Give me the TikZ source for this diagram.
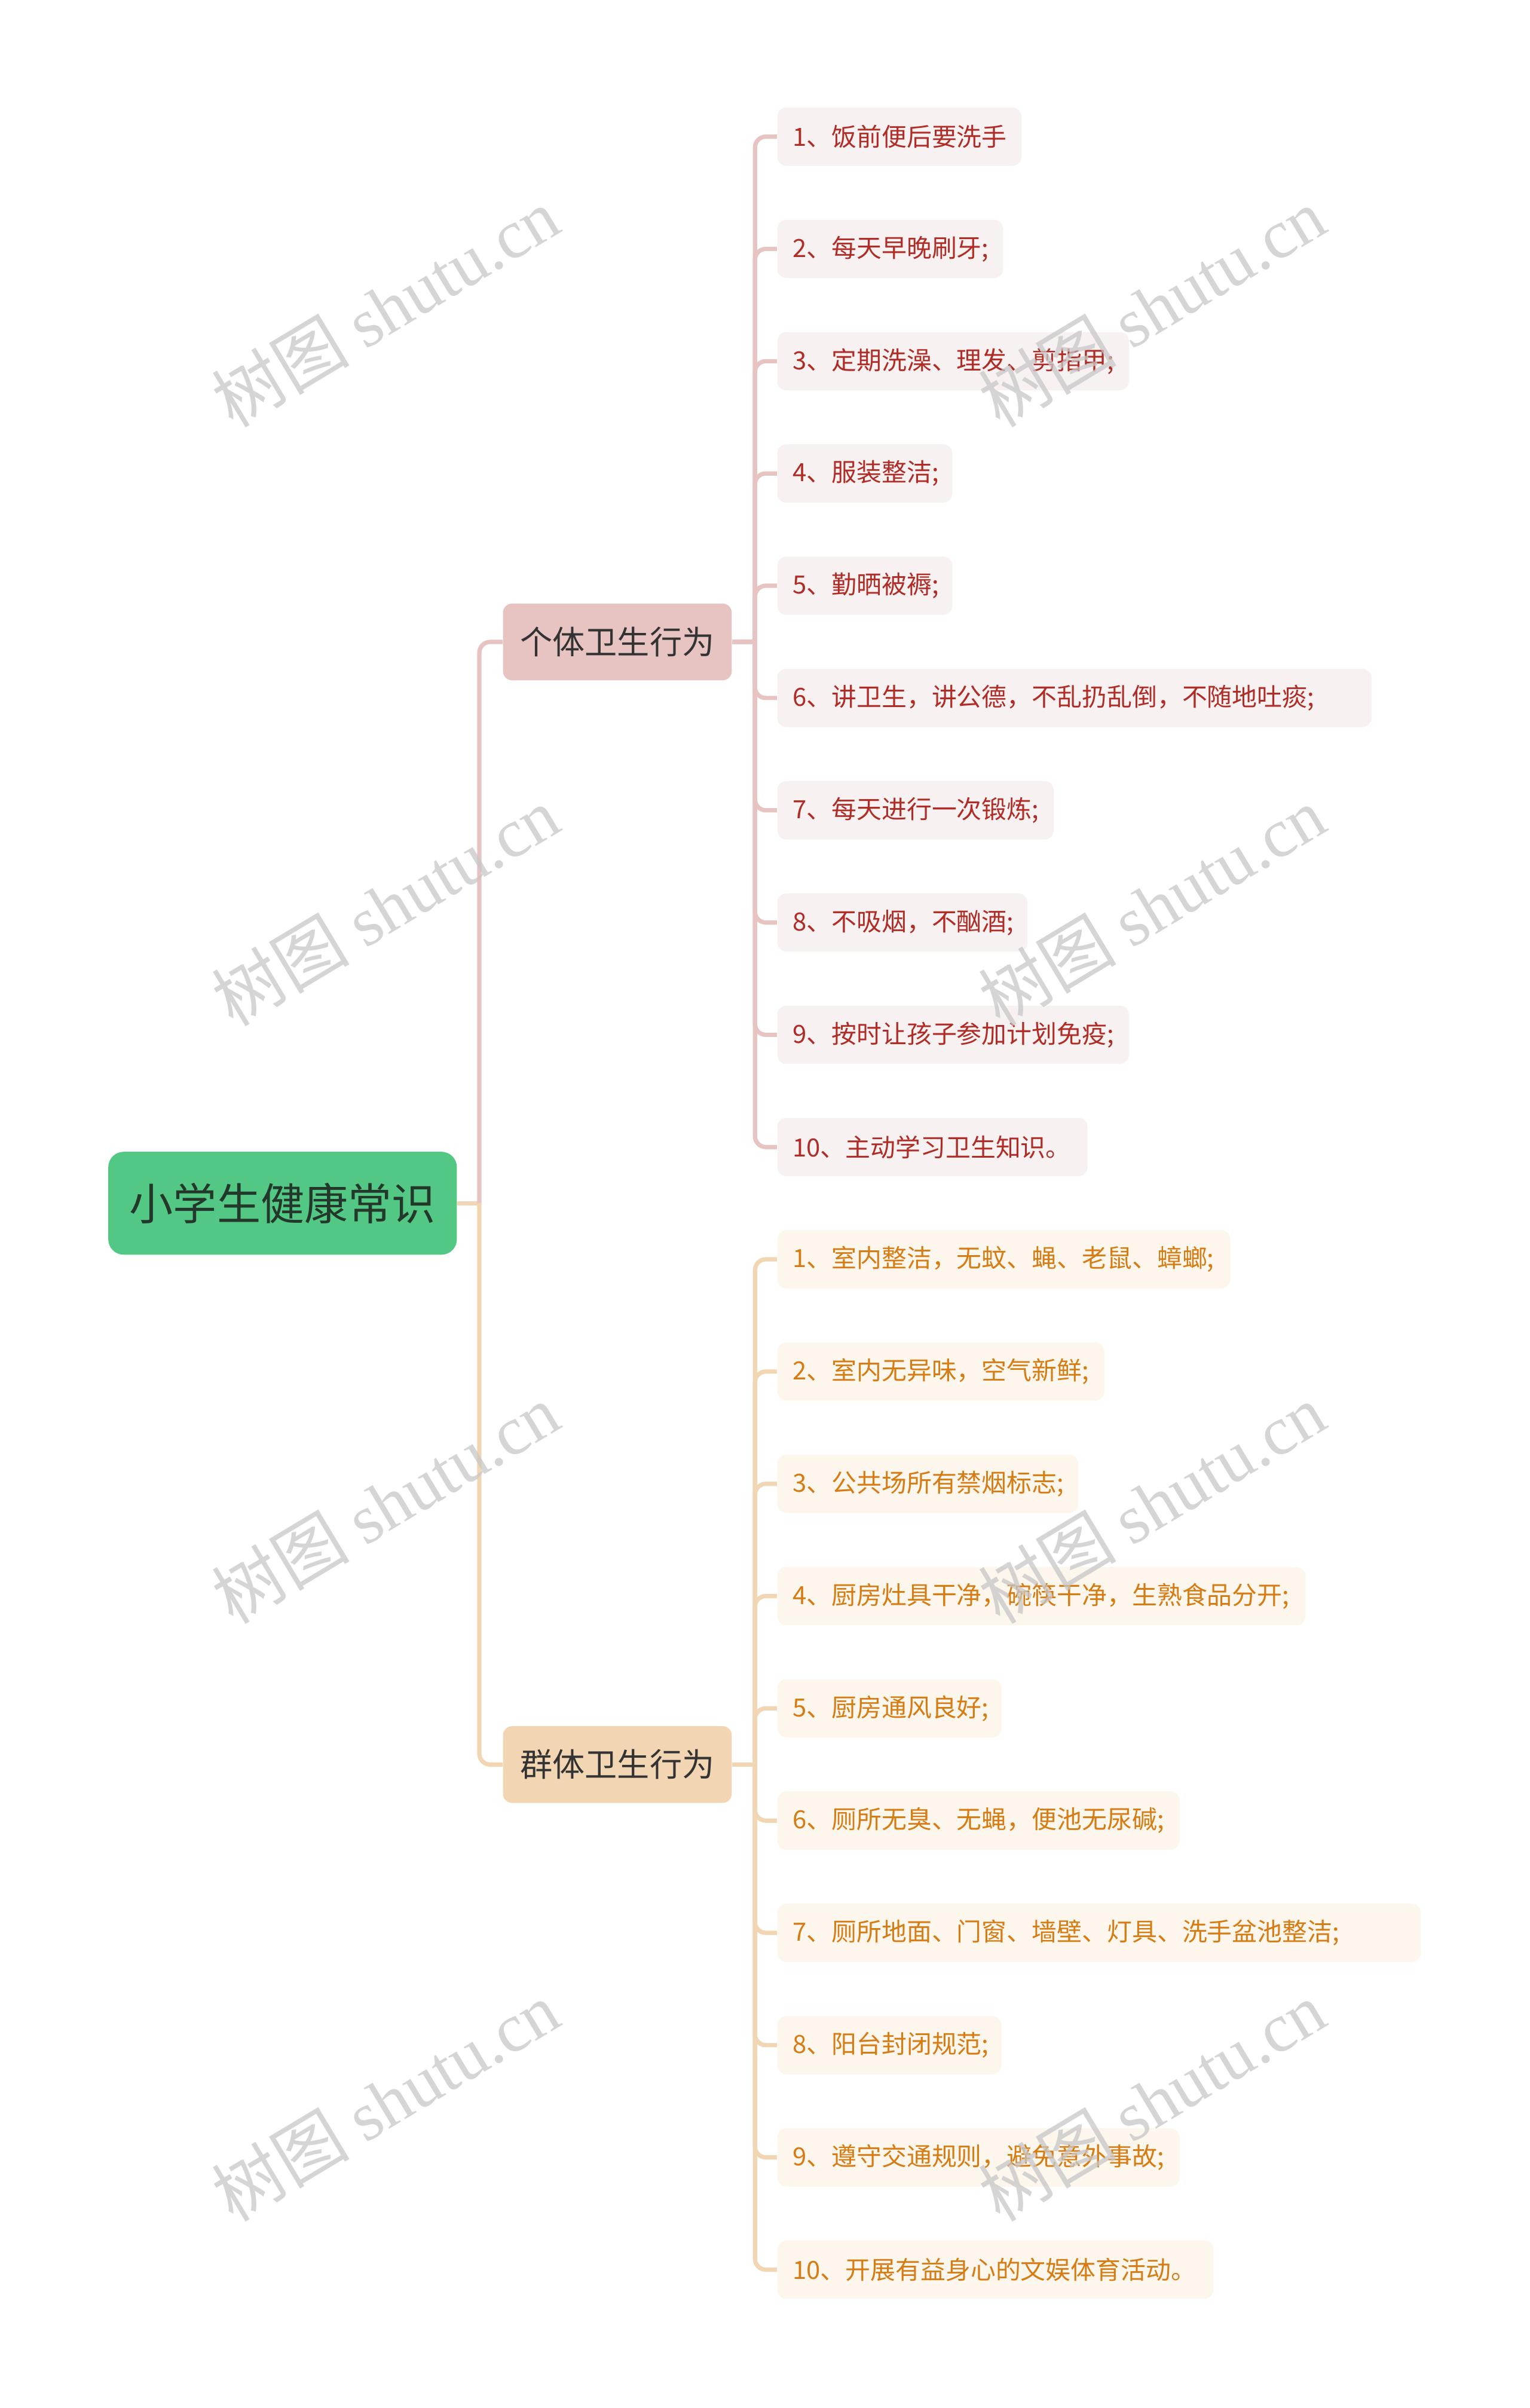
\documentclass[tikz,border=0pt]{standalone}
\usepackage{fontspec}
\setmainfont{Noto Sans CJK SC}
\newfontfamily\wmfont{Liberation Serif}
\usetikzlibrary{positioning}
\definecolor{rootgreen}{HTML}{52C884}
\definecolor{rootink}{HTML}{24372B}
\definecolor{grpink}{HTML}{333333}
\definecolor{pinkfill}{HTML}{E7C3C2}
\definecolor{peachfill}{HTML}{F2D5B2}
\definecolor{pinkleaf}{HTML}{F8F1F1}
\definecolor{peachleaf}{HTML}{FDF6EC}
\definecolor{redink}{HTML}{B02C26}
\definecolor{orangeink}{HTML}{D67C14}

\begin{document}
\begin{tikzpicture}[x=0.05cm,y=-0.05cm]
\tikzstyle{leaf}=[anchor=west,rounded corners=0.3cm,minimum height=1.9cm,inner xsep=0.5cm,align=left,font=\fontsize{23.2pt}{24pt}\selectfont]
\tikzstyle{grp}=[rounded corners=0.3cm,minimum width=7.45cm,minimum height=2.5cm,text=grpink,font=\fontsize{30pt}{30pt}\selectfont]
\tikzstyle{pinkline}=[draw=pinkfill,line width=0.14cm]
\tikzstyle{peachline}=[draw=peachfill,line width=0.14cm]
\tikzstyle{wm}=[rotate=31,text=black!22,text opacity=0.75,font=\fontsize{64pt}{64pt}\selectfont]
\useasboundingbox (0,0) rectangle (996,1568);
\node[fill=rootgreen,text=rootink,rounded corners=0.5cm,minimum width=11.35cm,minimum height=3.35cm,font=\fontsize{40.5pt}{41pt}\selectfont] (root) at (184,783.5) {小学生健康常识};
\node[grp,fill=pinkfill] (g1) at (402,418) {个体卫生行为};
\node[grp,fill=peachfill] (g2) at (402,1149) {群体卫生行为};
\foreach \i/\w/\t [evaluate=\w as \tw using (\w-20)*0.05] in {1/159/{1、饭前便后要洗手},2/147/{2、每天早晚刷牙;},3/229/{3、定期洗澡、理发、剪指甲;},4/114/{4、服装整洁;},5/114/{5、勤晒被褥;},6/387/{6、讲卫生，讲公德，不乱扔乱倒，不随地吐痰;},7/180/{7、每天进行一次锻炼;},8/163/{8、不吸烟，不酗酒;},9/229/{9、按时让孩子参加计划免疫;},10/202/{10、主动学习卫生知识。}} \node[leaf,fill=pinkleaf,text=redink,text width=\tw cm] (a\i) at (506,15.9+73.1*\i) {\t};
\foreach \i/\w/\t [evaluate=\w as \tw using (\w-20)*0.05] in {1/295/{1、室内整洁，无蚊、蝇、老鼠、蟑螂;},2/213/{2、室内无异味，空气新鲜;},3/196/{3、公共场所有禁烟标志;},4/344/{4、厨房灶具干净，碗筷干净，生熟食品分开;},5/146/{5、厨房通风良好;},6/262/{6、厕所无臭、无蝇，便池无尿碱;},7/419/{7、厕所地面、门窗、墙壁、灯具、洗手盆池整洁;},8/146/{8、阳台封闭规范;},9/262/{9、遵守交通规则，避免意外事故;},10/284/{10、开展有益身心的文娱体育活动。}} \node[leaf,fill=peachleaf,text=orangeink,text width=\tw cm] (b\i) at (506,746.9+73.1*\i) {\t};
% trunk from the root to the two groups
\draw[peachline] (root.east) -- ++(14.5,0) coordinate (t);
\draw[pinkline,rounded corners=0.35cm] (t) |- (g1.west);
\draw[peachline,rounded corners=0.35cm] (t) |- (g2.west);
% group to leaves
\draw[pinkline] (g1.east) -- ++(15,0) coordinate (j1);
\draw[peachline] (g2.east) -- ++(15,0) coordinate (j2);
\foreach \i in {1,...,10} \draw[pinkline,rounded corners=0.35cm] (j1) |- (a\i.west);
\foreach \i in {1,...,10} \draw[peachline,rounded corners=0.35cm] (j2) |- (b\i.west);
% watermark
\foreach \x in {251,750} \foreach \y in {200,590,979,1368} \node[wm] (w\x-\y) at (\x,\y) {树图 {\wmfont shutu.cn}};
\end{tikzpicture}
\end{document}
